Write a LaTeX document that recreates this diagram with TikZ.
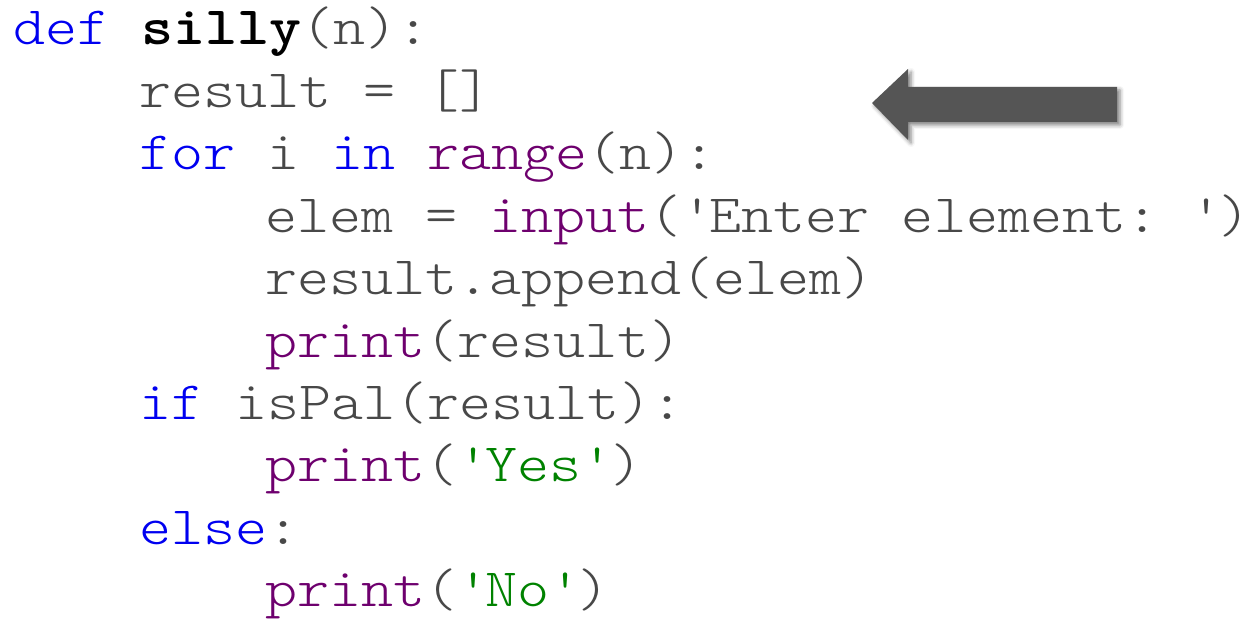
\documentclass[tikz,border=0pt]{standalone}
\usepackage{fontspec}
\setmonofont[FakeStretch=1.13]{Latin Modern Mono Light}
\usetikzlibrary{shadows.blur}
\definecolor{kw}{RGB}{0,0,240}
\definecolor{fn}{RGB}{110,0,110}
\definecolor{str}{RGB}{0,130,0}
\definecolor{plain}{RGB}{72,72,72}
\definecolor{arrowgray}{RGB}{85,85,85}
\newcommand{\K}[1]{\textcolor{kw}{#1}}
\newcommand{\F}[1]{\textcolor{fn}{#1}}
\newcommand{\Str}[1]{\textcolor{str}{#1}}
\newcommand{\q}{\textquotesingle}
\begin{document}
\begin{tikzpicture}[x=0.5pt,y=-0.5pt,
  codeline/.style={anchor=base west,inner sep=0pt,outer sep=0pt,text=plain,
    font=\ttfamily\frenchspacing\fontsize{27pt}{31pt}\selectfont}]
\useasboundingbox (0,0) rectangle (1251,620);
% one node per source line; columns are 31.5px wide, lines 62.43px apart
\node[codeline] (l1)  at (13+0*31.5, 44.8)  {\K{def} \textcolor{black}{\bfseries silly}(n):};
\node[codeline] (l2)  at (13+4*31.5, 107.2) {result = []};
\node[codeline] (l3)  at (13+4*31.5, 169.7) {\K{for} i \K{in} \F{range}(n):};
\node[codeline] (l4)  at (13+8*31.5, 232.1) {elem = \F{input}(\q Enter element: \q)};
\node[codeline] (l5)  at (13+8*31.5, 294.5) {result.append(elem)};
\node[codeline] (l6)  at (13+8*31.5, 357.0) {\F{print}(result)};
\node[codeline] (l7)  at (13+4*31.5, 419.4) {\K{if} isPal(result):};
\node[codeline] (l8)  at (13+8*31.5, 481.8) {\F{print}(\Str{\q Yes\q})};
\node[codeline] (l9)  at (13+4*31.5, 544.2) {\K{else}:};
\node[codeline] (l10) at (13+8*31.5, 606.7) {\F{print}(\Str{\q No\q})};
% pointer arrow with soft drop shadow
\fill[arrowgray,blur shadow={shadow xshift=1.5pt,shadow yshift=-1.5pt,shadow blur radius=2pt,shadow opacity=50}]
  (872,103) -- (908,69) -- (908,87) -- (1117,87) -- (1117,122) -- (908,122) -- (908,140) -- cycle;
\end{tikzpicture}
\end{document}
